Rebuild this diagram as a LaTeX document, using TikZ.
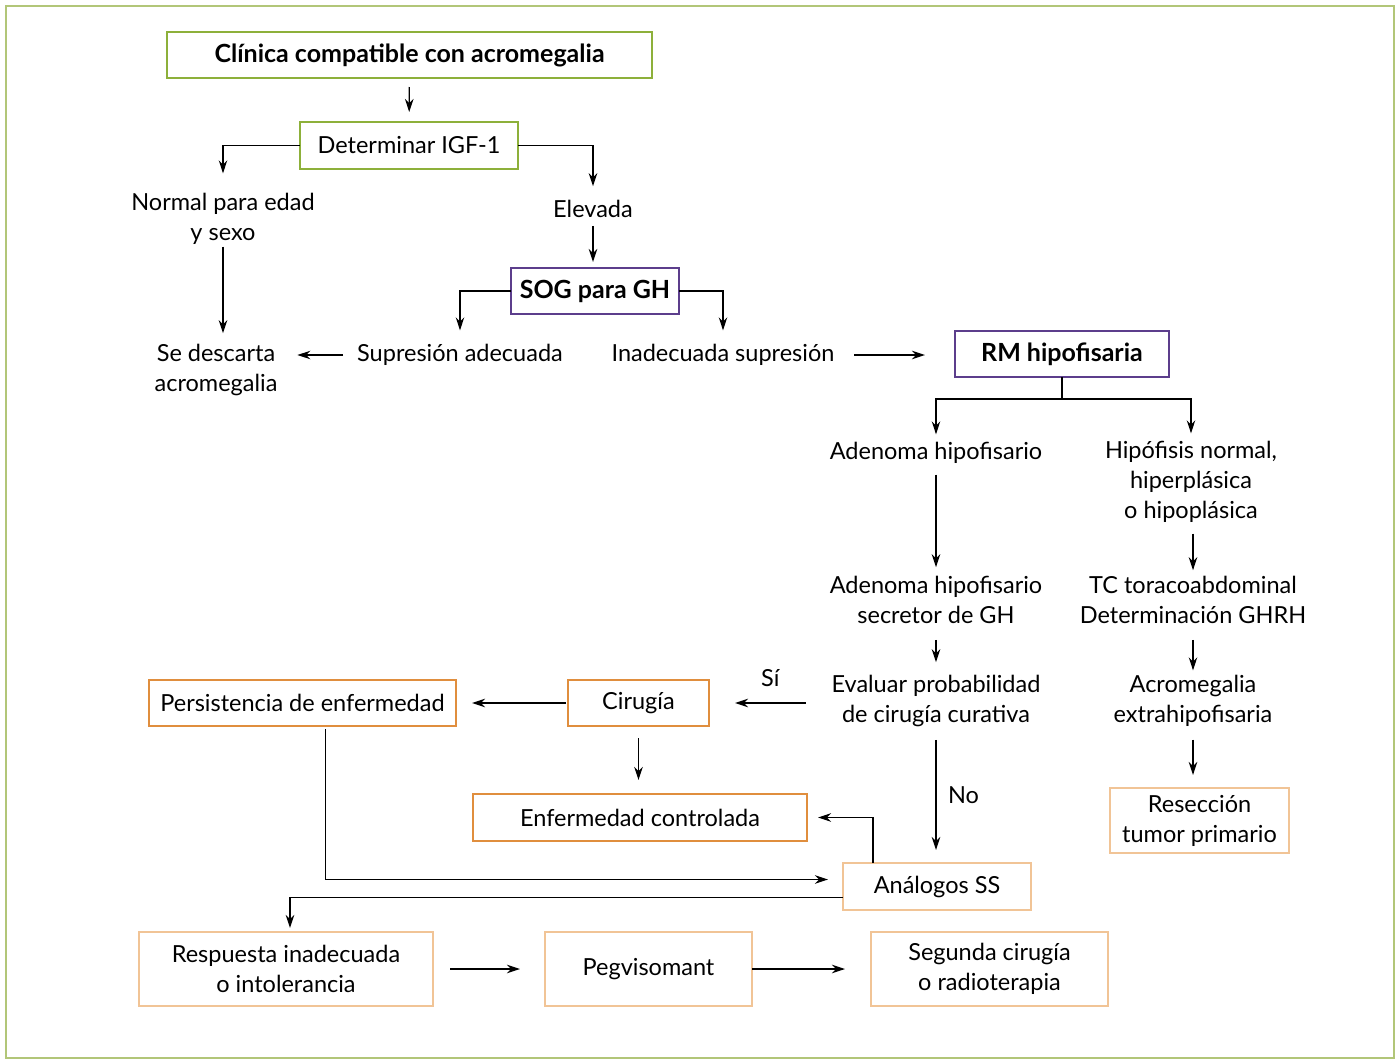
\documentclass[tikz,border=0pt]{standalone}
\usepackage{fontspec}
\setmainfont{Lato}
\usepackage{tikz}
\usetikzlibrary{arrows.meta}
\definecolor{olivegreen}{RGB}{141,176,58}
\definecolor{framegreen}{RGB}{178,198,120}
\definecolor{violet}{RGB}{92,62,140}
\definecolor{darkorange}{RGB}{224,142,62}
\definecolor{peach}{RGB}{241,196,150}
\tikzset{
  txt/.style={align=center, inner sep=0pt, outer sep=0pt, font=\fontsize{23.5}{30}\selectfont},
  box/.style={txt, draw, line width=1.6pt},
  boldtxt/.style={font=\fontsize{25}{30}\selectfont\bfseries},
  greenbox/.style={box, draw=olivegreen},
  violetbox/.style={box, boldtxt, draw=violet},
  cirbox/.style={box, draw=darkorange},
  peachbox/.style={box, draw=peach},
  arrow/.style={-{Stealth[length=13pt, width=8.5pt]}, line width=1.3pt},
  link/.style={line width=1.3pt}
}

\begin{document}
\begin{tikzpicture}[x=1pt, y=-1pt]
		\useasboundingbox (0,0) rectangle (1398,1063);
		\draw[framegreen, line width=1.4pt] (6,6) rectangle (1394,1058);
		% cribado inicial
		\node[greenbox, boldtxt, minimum width=485pt, minimum height=46pt] (clin) at (409.5,55) {Clínica compatible con acromegalia};
		\node[greenbox, minimum width=218pt, minimum height=47pt] (igf) at (409,145.5) {Determinar IGF-1};
		\node[txt] (normal) at (223,219) {Normal para edad\\y sexo};
		\node[txt] (elev) at (593,209) {Elevada};
		\node[violetbox, minimum width=168pt, minimum height=46pt] (sog) at (595,291) {SOG para GH};
		\node[txt] (supr) at (460,355) {Supresión adecuada};
		\node[txt] (inad) at (723,355) {Inadecuada supresión};
		\node[txt] (desc) at (216,370) {Se descarta\\acromegalia};
		\node[violetbox, minimum width=214pt, minimum height=46pt] (rm) at (1062,354) {RM hipofisaria};
		% rama adenoma
		\node[txt] (aden) at (936,453) {Adenoma hipofisario};
		\node[txt] (adsec) at (936,600) {Adenoma hipofisario\\secretor de GH};
		\node[txt] (eval) at (936,701) {Evaluar probabilidad\\de cirugía curativa};
		\node[cirbox, minimum width=141pt, minimum height=46pt] (cir) at (638.5,703) {Cirugía};
		\node[cirbox, minimum width=307pt, minimum height=46pt] (pers) at (302.5,703) {Persistencia de enfermedad};
		\node[cirbox, minimum width=334pt, minimum height=47pt] (ctrl) at (640,817.5) {Enfermedad controlada};
		\node[peachbox, minimum width=188pt, minimum height=47pt] (anal) at (937,886.5) {Análogos SS};
		\node[peachbox, minimum width=294pt, minimum height=74pt] (resp) at (286,969) {Respuesta inadecuada\\o intolerancia};
		\node[peachbox, minimum width=207pt, minimum height=74pt] (peg) at (648.5,969) {Pegvisomant};
		\node[peachbox, minimum width=237pt, minimum height=74pt] (seg) at (989.5,969) {Segunda cirugía\\o radioterapia};
		% rama hipofisis normal
		\node[txt] (hipo) at (1191,482) {Hipófisis normal,\\hiperplásica\\o hipoplásica};
		\node[txt] (tc) at (1193,600) {TC toracoabdominal\\Determinación GHRH};
		\node[txt] (acro) at (1193,701) {Acromegalia\\extrahipofisaria};
		\node[peachbox, minimum width=179pt, minimum height=65pt] (res) at (1199.5,820.5) {Resección\\tumor primario};

		\draw[arrow, shorten <=9pt, shorten >=10pt] (clin) -- (igf);
		\draw[arrow, shorten >=20pt] (igf.west) -| (normal);
		\draw[arrow, shorten >=14pt] (igf.east) -| (elev);
		\draw[arrow, shorten <=8pt, shorten >=6pt] (elev) -- (elev |- sog.north);
		\draw[arrow, shorten >=14pt] (sog.west) -| (supr);
		\draw[arrow, shorten >=14pt] (sog.east) -| (inad);
		\draw[arrow, shorten <=14pt, shorten >=20pt] (supr.west) -- (supr.west -| desc.east);
		\draw[arrow, shorten <=2pt, shorten >=11pt] (normal.south) -- (normal.south |- desc.north);
		\draw[arrow, shorten <=20pt, shorten >=30pt] (inad.east) -- (inad.east -| rm.west);
		\draw[link] (rm.south) -- ++(0,22) coordinate (rmjoin);
		\foreach \n in {aden,hipo}
			\draw[arrow, shorten >=8pt] (rmjoin) -| (\n);
		\draw[arrow, shorten <=11pt, shorten >=9pt] (aden) -- (adsec);
		\draw[arrow, shorten <=16pt, shorten >=13pt] (adsec) -- (eval);
		\draw[arrow, shorten <=26pt, shorten >=26pt] (cir.east -| eval.west) -- (cir.east)
			node[txt, midway, above=16pt] {Sí};
		\draw[arrow, shorten <=2pt, shorten >=16pt] (cir.west) -- (pers.east);
		\draw[arrow, shorten <=12pt, shorten >=14pt] (cir.south) -- (cir.south |- ctrl.north);
		\draw[arrow, shorten <=13pt, shorten >=13pt] (eval) -- (eval.south |- anal.north)
			node[txt, midway, right=12pt] {No};
		\draw[arrow, shorten >=11pt] ([xshift=30pt]anal.north west) |- (ctrl.east);
		\draw[arrow, shorten <=3pt, shorten >=15pt] ([xshift=23pt]pers.south) |- ([yshift=7pt]anal.west);
		\draw[arrow, shorten >=4pt] ([yshift=-11pt]anal.west) -| ([xshift=4pt]resp.north);
		\draw[arrow, shorten <=17pt, shorten >=25pt] (resp) -- (peg);
		\draw[arrow, shorten >=26pt] (peg) -- (seg);
		\draw[arrow, shorten <=11pt, shorten >=6pt] (hipo.south -| tc) -- (tc);
		\draw[arrow, shorten <=16pt, shorten >=5pt] (tc) -- (acro);
		\draw[arrow, shorten <=13pt, shorten >=13pt] (acro.south) -- (acro.south |- res.north);
	\end{tikzpicture}
\end{document}
